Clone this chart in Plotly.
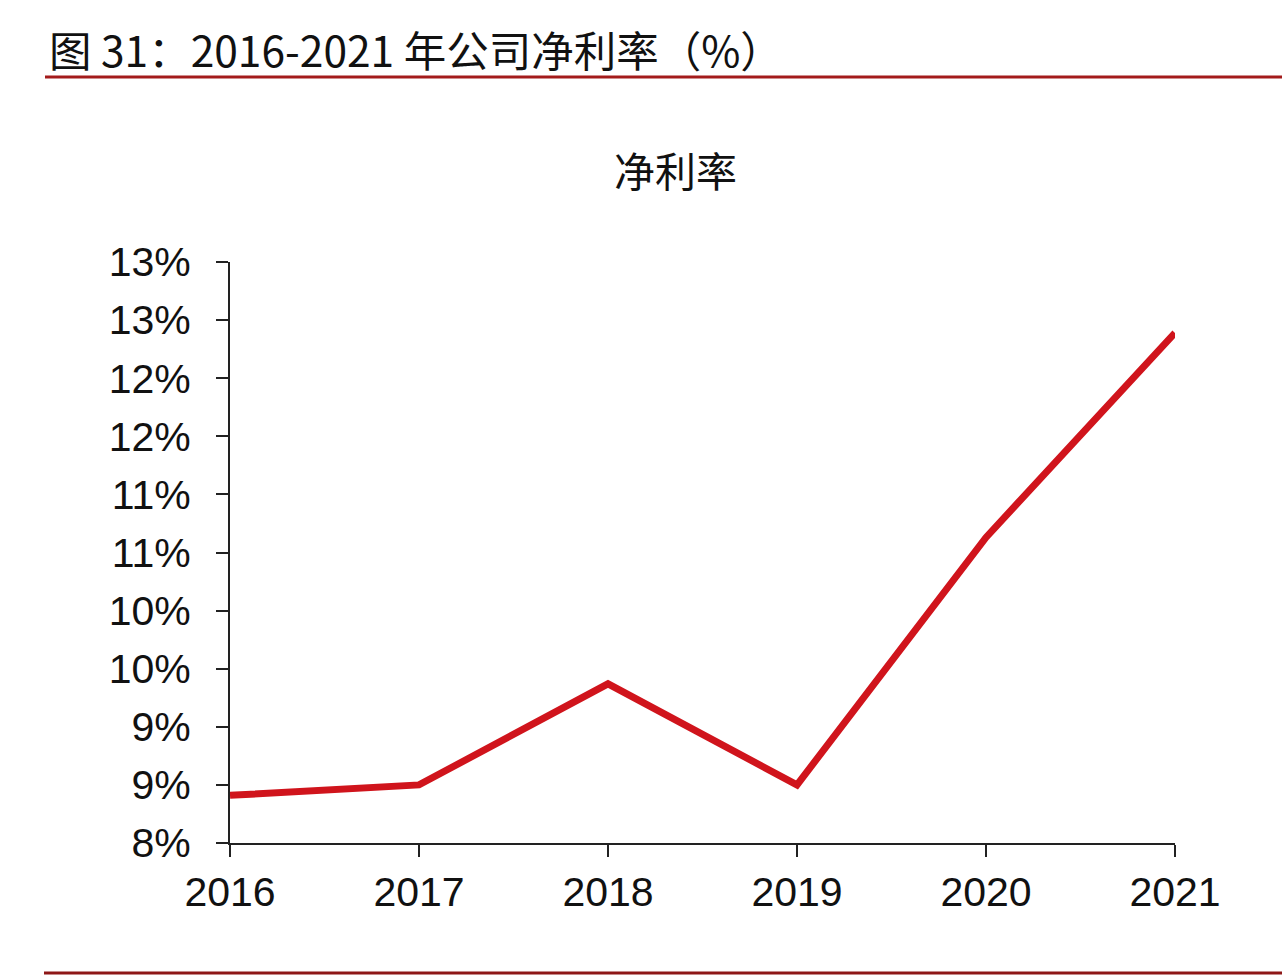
import plotly.graph_objects as go

years = [2016, 2017, 2018, 2019, 2020, 2021]
net_margin = [8.41, 8.50, 9.37, 8.50, 10.63, 12.39]
ytick_vals = [8.0, 8.5, 9.0, 9.5, 10.0, 10.5, 11.0, 11.5, 12.0, 12.5, 13.0]
ytick_text = ["8%", "9%", "9%", "10%", "10%", "11%", "11%", "12%", "12%", "13%", "13%"]
header = "图 31：2016-2021 年公司净利率（%）"
chart_title = "净利率"

W, H = 1282, 978
fig = go.Figure()
fig.add_trace(go.Scatter(
    x=years, y=net_margin, mode="lines",
    line=dict(color="#d0141c", width=7),
    hoverinfo="skip", showlegend=False,
))

axis_font = dict(family="Liberation Sans, Arial, sans-serif", size=41, color="#111111")
fig.update_layout(
    width=W, height=H,
    margin=dict(l=0, r=0, t=0, b=0, pad=0, autoexpand=False),
    paper_bgcolor="white", plot_bgcolor="white",
    xaxis=dict(
        domain=[230 / W, 1175 / W], range=[2016, 2021],
        tickvals=years, ticktext=[str(y) for y in years],
        ticks="outside", ticklen=12, tickwidth=2, tickcolor="#222222",
        showline=True, linecolor="#222222", linewidth=2,
        showgrid=False, zeroline=False, tickfont=axis_font,
        ticklabelstandoff=0, automargin=False,
    ),
    yaxis=dict(
        domain=[(H - 843) / H, (H - 262) / H], range=[8, 13],
        tickvals=ytick_vals, ticktext=ytick_text,
        ticks="outside", ticklen=12, tickwidth=2, tickcolor="#222222",
        showline=True, linecolor="#222222", linewidth=2,
        showgrid=False, zeroline=False, tickfont=axis_font,
        ticklabelstandoff=17, automargin=False,
    ),
    annotations=[
        dict(text=header, x=47 / W, y=1 - 49 / H, xref="paper", yref="paper",
             xanchor="left", yanchor="middle", showarrow=False,
             font=dict(family="Liberation Sans Narrow, Arial Narrow, Noto Sans CJK SC, sans-serif", size=42.5, color="#111111")),
        dict(text=chart_title, x=676 / W, y=1 - 169 / H, xref="paper", yref="paper",
             xanchor="center", yanchor="middle", showarrow=False,
             font=dict(family="Noto Sans CJK SC, sans-serif", size=41, color="#111111")),
    ],
    shapes=[
        dict(type="line", xref="paper", yref="paper", x0=45 / W, x1=1, y0=1 - 77 / H, y1=1 - 77 / H,
             line=dict(color="#a31b1b", width=3)),
        dict(type="line", xref="paper", yref="paper", x0=44 / W, x1=1, y0=1 - 973 / H, y1=1 - 973 / H,
             line=dict(color="#8e1717", width=3)),
    ],
)

fig.write_html("out.html")
